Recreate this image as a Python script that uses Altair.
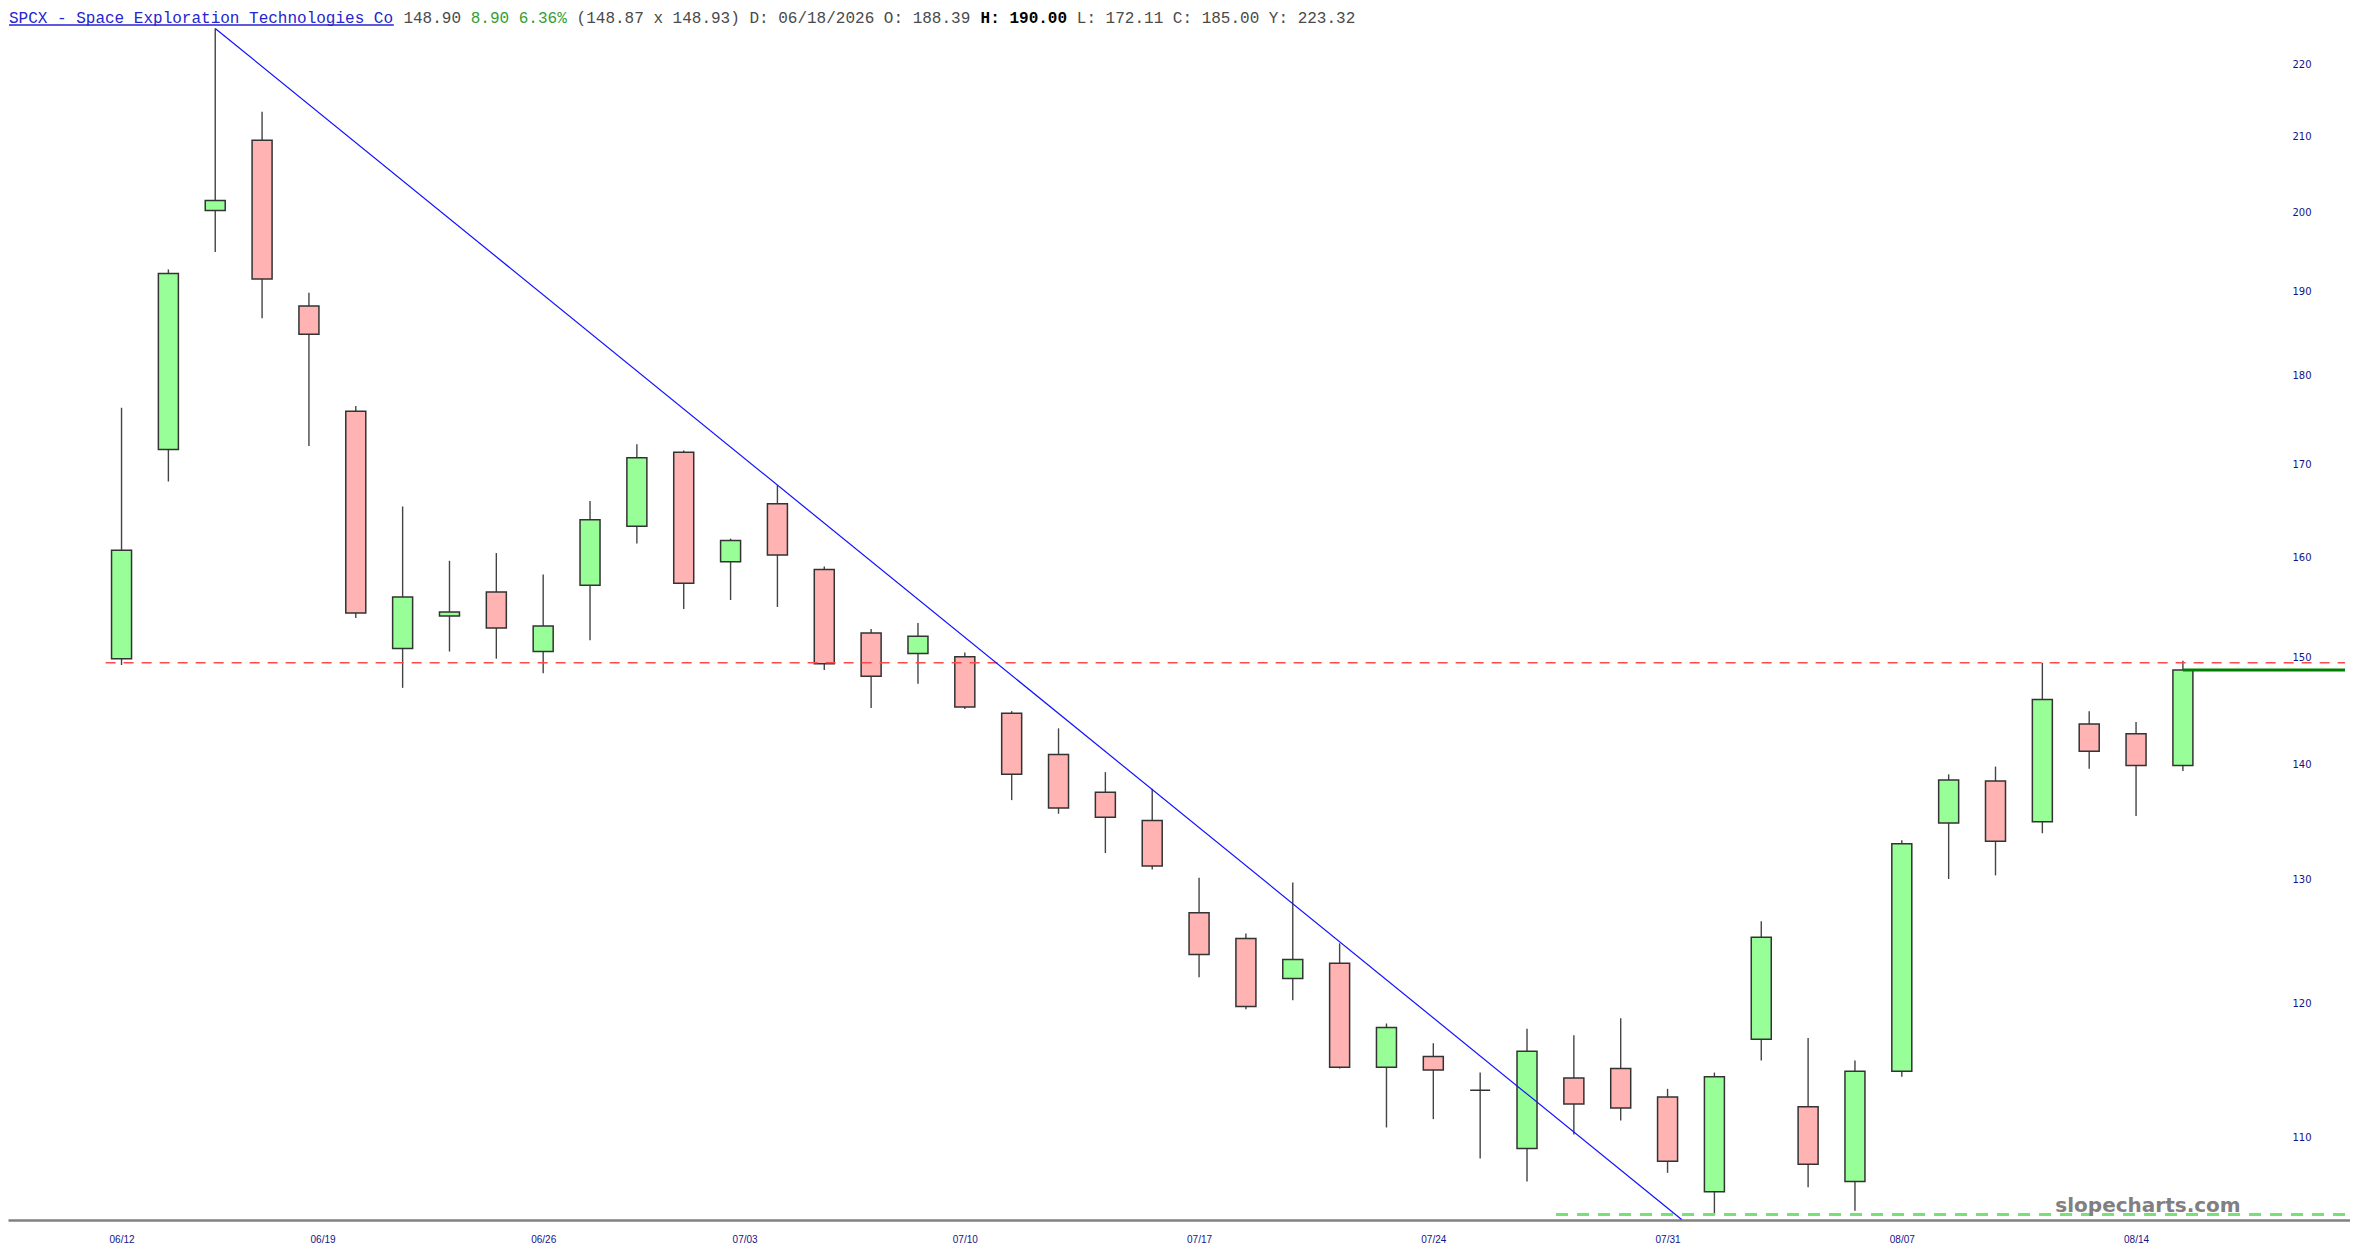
import altair as alt
import pandas as pd

# ---------------- data ----------------
dates = ["06/12","06/15","06/16","06/17","06/18","06/22","06/23","06/24","06/25","06/26",
         "06/29","06/30","07/01","07/02","07/06","07/07","07/08","07/09","07/10","07/13",
         "07/14","07/15","07/16","07/17","07/20","07/21","07/22","07/23","07/24","07/27",
         "07/28","07/29","07/30","07/31","08/03","08/04","08/05","08/06","08/07","08/10",
         "08/11","08/12","08/13","08/14","08/17"]
opens  = [150.0,171.7,200.4,209.7,188.39,176.0,151.0,154.2,156.6,150.7,
          157.3,163.4,171.4,159.7,165.8,158.9,152.5,150.5,150.2,144.8,
          141.0,137.6,135.1,127.3,125.2,122.0,123.2,115.2,116.0,113.5,
          109.3,114.4,115.1,113.0,106.3,117.3,112.3,107.0,114.9,134.9,
          138.6,135.0,143.8,142.9,140.0]
highs  = [176.4,192.9,225.4,213.6,190.00,176.6,165.5,159.8,160.6,158.4,
          166.1,172.3,171.6,162.1,167.8,159.2,152.9,153.5,150.6,145.0,
          143.4,139.4,137.9,130.2,125.6,129.8,124.8,118.5,117.0,114.8,
          118.1,117.6,118.9,113.6,114.8,126.6,117.4,115.7,133.4,139.2,
          139.9,149.6,145.0,144.0,149.8]
lows   = [149.4,168.2,195.1,186.9,172.11,154.0,147.2,150.7,150.0,148.6,
          151.8,161.6,154.9,155.8,155.1,148.9,145.3,147.6,145.2,136.9,
          135.7,132.3,130.9,122.1,119.6,120.3,115.1,110.8,111.4,108.6,
          107.0,110.3,111.3,107.6,104.7,115.7,106.6,105.0,114.5,130.1,
          130.4,134.0,139.7,135.5,139.5]
closes = [160.9,192.4,201.7,191.7,185.00,154.5,156.1,154.6,153.0,153.2,
          164.1,170.8,157.5,161.9,160.4,149.5,148.3,152.2,145.4,139.2,
          136.2,135.4,131.2,123.9,119.8,123.5,115.2,118.2,115.0,113.5,
          116.4,112.5,112.2,108.4,114.5,125.3,108.2,114.9,133.1,138.7,
          133.3,146.1,141.3,140.0,148.9]

# x-axis date labels and where they sit (bar index units)
tick_labels = ["06/12","06/19","06/26","07/03","07/10","07/17","07/24","07/31","08/07","08/14"]
tick_pos    = [0, 4.29, 9, 13.3, 18, 23, 28, 33, 38, 43]
y_ticks     = [110, 120, 130, 140, 150, 160, 170, 180, 190, 200, 210, 220]

# annotation lines (index units / price)
trend_x = [2, 33.3]
trend_y = [225.4, 104.4]
resist_level = 149.6
resist_start = -0.34
support_level = 104.75
support_start = 30.62
last_price = 148.90

X_MIN, X_MAX = -2.3167, 47.46
Y_MIN, Y_MAX = 104.37, 228.4

W, H = 2342, 1212

# ---------------- frames ----------------
df = pd.DataFrame({
    "i": list(range(len(dates))),
    "date": dates,
    "open": opens, "high": highs, "low": lows, "close": closes,
})
df["dir"] = ["up" if c >= o else "down" for o, c in zip(opens, closes)]

xs = alt.Scale(domain=[X_MIN, X_MAX], nice=False, zero=False)
ys = alt.Scale(type="log", domain=[Y_MIN, Y_MAX], nice=False, zero=False)

label_expr = ("[" + ",".join("'%s'" % t for t in tick_labels) + "][indexof(["
              + ",".join(str(p) for p in tick_pos) + "], datum.value)]")

x_axis = alt.Axis(values=tick_pos, labelExpr=label_expr, title=None, grid=False,
                  ticks=False, domainColor="#808080", domainWidth=2.5,
                  labelColor="#14148a", labelFont="Liberation Sans", labelFontSize=10,
                  labelPadding=14, labelFlush=False, labelOverlap=False)
y_axis = alt.Axis(orient="right", values=y_ticks, format="d", title=None, grid=False,
                  ticks=False, domain=False, offset=-58, labelPadding=0,
                  labelAlign="left", labelBaseline="middle", labelOffset=-1,
                  labelColor="#14148a", labelFont="DejaVu Sans", labelFontSize=10,
                  labelFlush=False, labelOverlap=False)

base = alt.Chart(df)

wicks = base.mark_rule(color="#444444", strokeWidth=1.4).encode(
    x=alt.X("i:Q", scale=xs, axis=x_axis),
    y=alt.Y("low:Q", scale=ys, axis=y_axis),
    y2="high:Q",
)

bodies = base.mark_bar(size=20, stroke="#333333", strokeWidth=1.5).encode(
    x=alt.X("i:Q", scale=xs),
    y=alt.Y("open:Q", scale=ys),
    y2="close:Q",
    fill=alt.Fill("dir:N", scale=alt.Scale(domain=["up", "down"],
                                             range=["#98FF98", "#FFB3B3"]), legend=None),
)

trend = alt.Chart(pd.DataFrame({"x": trend_x, "y": trend_y})).mark_line(
    color="#1010ff", strokeWidth=1.2).encode(
    x=alt.X("x:Q", scale=xs), y=alt.Y("y:Q", scale=ys))

resist = alt.Chart(pd.DataFrame({"x": [resist_start], "x2": [X_MAX], "y": [resist_level]})).mark_rule(
    color="#ff4a4a", strokeWidth=1.5, strokeDash=[10, 8]).encode(
    x=alt.X("x:Q", scale=xs), x2="x2:Q", y=alt.Y("y:Q", scale=ys))

support = alt.Chart(pd.DataFrame({"x": [support_start], "x2": [X_MAX], "y": [support_level]})).mark_rule(
    color="#77e077", strokeWidth=3, strokeDash=[12, 9]).encode(
    x=alt.X("x:Q", scale=xs), x2="x2:Q", y=alt.Y("y:Q", scale=ys))

price_line = alt.Chart(pd.DataFrame({"x": [len(dates) - 1], "x2": [X_MAX], "y": [last_price]})).mark_rule(
    color="#008000", strokeWidth=3).encode(
    x=alt.X("x:Q", scale=xs), x2="x2:Q", y=alt.Y("y:Q", scale=ys))

# ---------------- header & watermark ----------------
CW = 9.62
header_parts = [
    (0,   "SPCX - Space Exploration Technologies Co", "#2424d0", "normal"),
    (41,  "148.90", "#4a4a4a", "normal"),
    (48,  "8.90 6.36%", "#33a033", "normal"),
    (59,  "(148.87 x 148.93) D: 06/18/2026 O: 188.39", "#4a4a4a", "normal"),
    (101, "H: 190.00", "#000000", "bold"),
    (111, "L: 172.11 C: 185.00 Y: 223.32", "#4a4a4a", "normal"),
]
header_layers = []
for off, txt, col, wt in header_parts:
    header_layers.append(
        alt.Chart(pd.DataFrame({"t": [txt]})).mark_text(
            align="left", baseline="top", font="Liberation Mono", fontSize=16,
            fontWeight=wt, color=col).encode(
            text="t:N", x=alt.value(1 + off * CW), y=alt.value(2))
    )
underline = alt.Chart(pd.DataFrame({"a": [0]})).mark_rule(color="#2424d0", strokeWidth=1.5).encode(
    x=alt.value(1), x2=alt.value(1 + 40 * CW), y=alt.value(17))

watermark = alt.Chart(pd.DataFrame({"t": ["slopecharts.com"]})).mark_text(
    align="center", baseline="alphabetic", font="DejaVu Sans", fontSize=20,
    fontWeight="bold", color="#808080").encode(
    text="t:N", x=alt.value(2140), y=alt.value(1204))

chart = alt.layer(
    wicks, bodies, support, watermark, resist, trend, price_line, underline, *header_layers
).properties(
    width=W, height=H, padding=0, background="white"
).configure_view(stroke=None)

chart.save("out.html", embed_options={"renderer": "svg", "actions": False})
